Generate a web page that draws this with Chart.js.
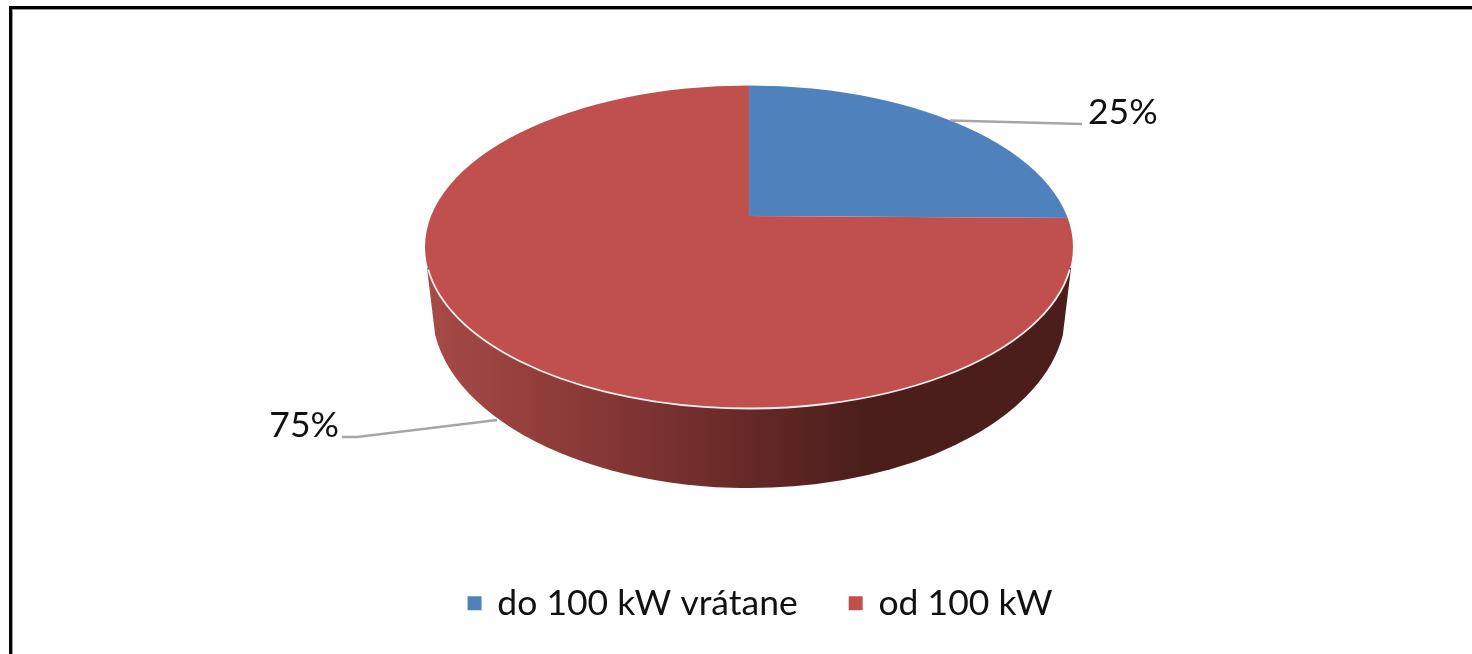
<!DOCTYPE html>
<html>
<head>
<meta charset="utf-8">
<title>Pie</title>
<script src="https://cdn.jsdelivr.net/npm/chart.js@4"></script>
<style>
  html, body { margin: 0; padding: 0; background: #fff; overflow: hidden; }
  #frame { position: absolute; left: 9px; top: 6px; right: 0; bottom: 0; border-top: 3px solid #000; border-left: 3px solid #000; box-shadow: inset 0 1px 0 #999, inset 1px 0 0 #999; }
  canvas { position: absolute; left: 0; top: 0; filter: blur(0.5px); }
</style>
</head>
<body>
<div id="frame"></div>
<canvas id="pieChart" width="1472" height="654"></canvas>
<script>
// Data
const categories = ['do 100 kW vrátane', 'od 100 kW'];
const shares = [25, 75];
const sliceColors = ['#4f81bd', '#c0504d'];

// Look of the tilted disc (Chart.js has no 3D pie)
const topFace = { cx: 749, cy: 247, rx: 324, ry: 161.5 };
const apex = { x: 749, y: 216 };
const rim = { cy: 310, rx: 317, ry: 178, joinY: 268, joinDx: 322, startAngle: 0.141 };
const rimStops = [[0, '#a64a46'], [0.32, '#7f3432'], [0.68, '#4b1e1c'], [1, '#4b1e1c']];
const callouts = [
    { path: [[950, 120.5], [1082, 124]], x: 1088, y: 124, align: 'left' },
    { path: [[497, 420], [357, 437], [342, 437]], x: 339, y: 437, align: 'right' }
];

const disc3d = {
    id: 'disc3d',
    beforeDatasetsDraw(chart) {
        const ctx = chart.ctx;
        const arc = chart.getDatasetMeta(0).data[0];

        // side of the disc
        const grad = ctx.createLinearGradient(topFace.cx - rim.rx, 0, topFace.cx + rim.rx, 0);
        rimStops.forEach(s => grad.addColorStop(s[0], s[1]));
        ctx.save();
        ctx.fillStyle = grad;
        ctx.beginPath();
        ctx.moveTo(topFace.cx - rim.joinDx, rim.joinY);
        ctx.ellipse(topFace.cx, rim.cy, rim.rx, rim.ry, 0, Math.PI - rim.startAngle, rim.startAngle, true);
        ctx.lineTo(topFace.cx + rim.joinDx, rim.joinY);
        ctx.closePath();
        ctx.fill();
        ctx.restore();

        // the library's pie, enlarged round the apex and cut to the top face
        ctx.save();
        ctx.beginPath();
        ctx.ellipse(topFace.cx, topFace.cy, topFace.rx, topFace.ry, 0, 0, Math.PI * 2);
        ctx.clip();
        const k = 600 / arc.outerRadius;
        ctx.transform(k, k * 2 / 319, 0, k, apex.x - k * arc.x, apex.y - k * arc.y - k * arc.x * 2 / 319);
    },
    afterDatasetsDraw(chart) {
        const ctx = chart.ctx;
        ctx.restore();

        // thin light edge on the front of the top face
        ctx.save();
        ctx.strokeStyle = '#f6eeee';
        ctx.lineWidth = 1.8;
        ctx.beginPath();
        ctx.ellipse(topFace.cx, topFace.cy, topFace.rx, topFace.ry, 0, 0.14, Math.PI - 0.14);
        ctx.stroke();

        // leader lines and percentages
        ctx.strokeStyle = '#a6a6a6';
        ctx.lineWidth = 2.5;
        ctx.fillStyle = '#111';
        ctx.font = '35.5px Lato';
        ctx.textBaseline = 'alphabetic';
        callouts.forEach((c, i) => {
            ctx.beginPath();
            c.path.forEach((p, j) => j ? ctx.lineTo(p[0], p[1]) : ctx.moveTo(p[0], p[1]));
            ctx.stroke();
            ctx.textAlign = c.align;
            ctx.fillText(shares[i] + '%', c.x, c.y);
        });
        ctx.restore();
    }
};

new Chart(document.getElementById('pieChart'), {
    type: 'pie',
    data: {
        labels: categories,
        datasets: [{
            data: shares,
            backgroundColor: sliceColors,
            borderColor: 'rgba(255, 255, 255, 0.65)',
            borderWidth: 0.03,
            clip: false
        }]
    },
    options: {
        responsive: false,
        animation: false,
        layout: { padding: { left: 50, bottom: 23 } },
        plugins: {
            tooltip: { enabled: false },
            legend: {
                position: 'bottom',
                labels: {
                    color: '#111',
                    font: { family: 'Lato', size: 35.5 },
                    usePointStyle: true,
                    pointStyle: 'rect',
                    boxWidth: 10,
                    boxHeight: 14,
                    padding: 53
                }
            }
        }
    },
    plugins: [disc3d]
});
</script>
</body>
</html>
